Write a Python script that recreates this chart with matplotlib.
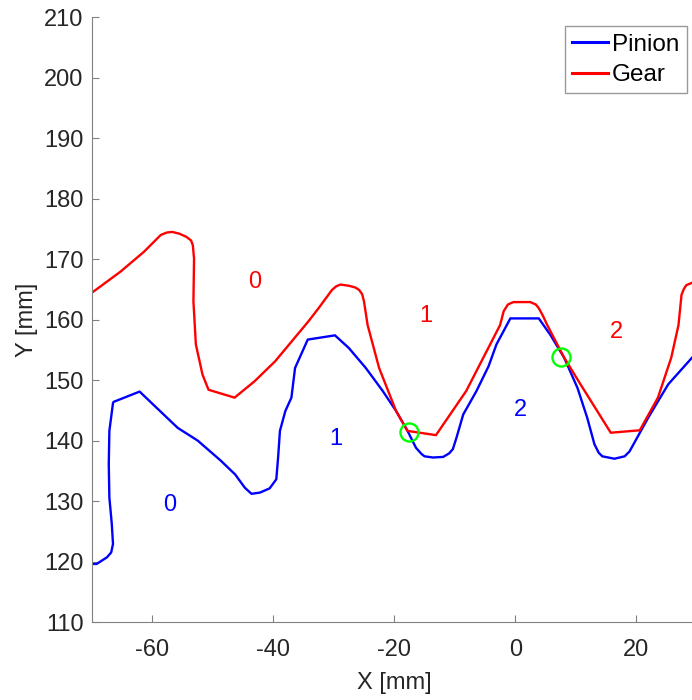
import matplotlib

matplotlib.use("Agg")

import matplotlib.pyplot as plt

plt.rcParams["font.family"] = ["Liberation Sans", "DejaVu Sans"]
plt.rcParams["axes.unicode_minus"] = False

# pinion tooth profile (mm)
pinion_x = [-70.5, -69.2, -67.5, -66.8, -66.5, -66.7, -67.1, -67.2, -67.1, -66.5, -66.4,
            -62.1, -55.8, -52.5, -48.7, -46.3, -44.7, -43.6, -42.2, -40.6, -39.5, -39.2,
            -38.9, -38.0, -37.0, -36.4, -34.3, -29.8, -27.5, -24.7, -21.9, -19.7, -17.8,
            -16.4, -15.5, -15.0, -13.6, -11.9, -10.9, -10.3, -9.7, -8.6, -6.4, -4.4, -3.1,
            -0.8, 3.9, 5.8, 8.1, 10.3, 11.9, 13.1, 13.8, 14.4, 16.4, 18.1, 18.9, 19.4, 22.0,
            25.3, 29.5, 30.5]
pinion_y = [119.6, 119.6, 120.7, 121.5, 122.9, 126.2, 130.6, 136.1, 141.6, 146.2, 146.4,
            148.1, 142.1, 140.0, 136.7, 134.4, 132.2, 131.2, 131.4, 132.1, 133.6, 137.2,
            141.6, 144.9, 147.1, 152.0, 156.7, 157.4, 155.3, 152.0, 148.2, 144.9, 141.6,
            138.8, 137.8, 137.4, 137.2, 137.3, 137.9, 138.6, 140.5, 144.3, 148.2, 152.3, 155.9,
            160.2, 160.2, 157.5, 153.7, 148.7, 143.8, 139.4, 138.0, 137.4, 137.0, 137.4, 138.2,
            139.1, 143.8, 149.3, 154.0, 155.0]

# gear tooth profile (mm)
gear_x = [-70.6, -65.3, -61.4, -58.6, -57.6, -56.7, -55.5, -54.4, -53.6, -53.3, -53.1,
          -53.2, -52.8, -51.7, -50.7, -46.4, -43.1, -39.7, -34.2, -32.5, -30.3, -29.6,
          -28.9, -27.5, -26.4, -25.8, -25.3, -25.0, -24.4, -22.5, -19.7, -17.8, -13.1,
          -8.1, -2.5, -1.9, -1.2, -0.3, 2.5, 3.4, 3.9, 4.6, 5.3, 8.1, 10.8, 15.8, 20.6,
          23.6, 25.8, 27.0, 27.5, 27.9, 28.3, 29.5, 30.5]
gear_y = [164.0, 167.9, 171.2, 174.0, 174.4, 174.5, 174.2, 173.7, 173.1, 172.3, 170.1,
          163.0, 155.9, 150.9, 148.4, 147.1, 149.8, 153.1, 159.7, 161.9, 164.9, 165.5,
          165.8, 165.6, 165.3, 164.9, 164.2, 163.0, 159.1, 152.0, 144.9, 141.6, 140.9,
          148.2, 159.1, 161.4, 162.5, 162.9, 162.9, 162.5, 161.9, 160.6, 159.1, 153.7, 149.3,
          141.3, 141.7, 147.1, 153.7, 159.1, 164.1, 165.1, 165.7, 166.2, 166.3]

# contact points
contact_x = [-17.5, 7.5]
contact_y = [141.4, 153.8]

# tooth numbers
tooth_ids = ["0", "1", "2"]
pinion_label_x = [-57.2, -29.7, 0.8]
pinion_label_y = [129.4, 140.3, 145.1]
gear_label_x = [-43.0, -14.7, 16.7]
gear_label_y = [166.2, 160.6, 157.9]

fig = plt.figure(figsize=(6.92, 7.0), dpi=100)
ax = fig.add_axes([0.1327, 0.1114, 0.874, 0.864])

ax.plot(pinion_x, pinion_y, color="#0000ff", lw=1.7, label="Pinion")
ax.plot(gear_x, gear_y, color="#ff0000", lw=1.7, label="Gear")
ax.plot(contact_x, contact_y, "o", mfc="none", mec="#00ff00", mew=1.7, ms=13)

for t, x, y in zip(tooth_ids, pinion_label_x, pinion_label_y):
    ax.text(x, y, t, color="#0000ff", fontsize=17, ha="center", va="center")
for t, x, y in zip(tooth_ids, gear_label_x, gear_label_y):
    ax.text(x, y, t, color="#ff0000", fontsize=17, ha="center", va="center")

ax.set_xlim(-70, 30)
ax.set_ylim(110, 210)
ax.set_xticks([-60, -40, -20, 0, 20])
ax.set_yticks(range(110, 211, 10))
ax.spines["top"].set_visible(False)
ax.spines["right"].set_visible(False)
for side in ["left", "bottom"]:
    ax.spines[side].set_color("#808080")
ax.tick_params(direction="in", length=5, color="#808080", labelsize=17,
               labelcolor="#262626", pad=6)
ax.tick_params(axis="x", pad=12)
ax.set_xlabel("X [mm]", fontsize=17, color="#262626", labelpad=8)
ax.set_ylabel("Y [mm]", fontsize=17, color="#262626", labelpad=4)

leg = ax.legend(loc="upper right", bbox_to_anchor=(0.9835, 0.985), fontsize=17.5,
                fancybox=False, edgecolor="#808080", handlelength=1.5,
                handletextpad=0.15, borderpad=0.3, labelspacing=0.35,
                borderaxespad=0)
leg.get_frame().set_linewidth(1.0)
for line in leg.get_lines():
    line.set_linewidth(2.2)
for text in leg.get_texts():
    text.set_color("#000000")

fig.savefig("out.png", dpi=100)
